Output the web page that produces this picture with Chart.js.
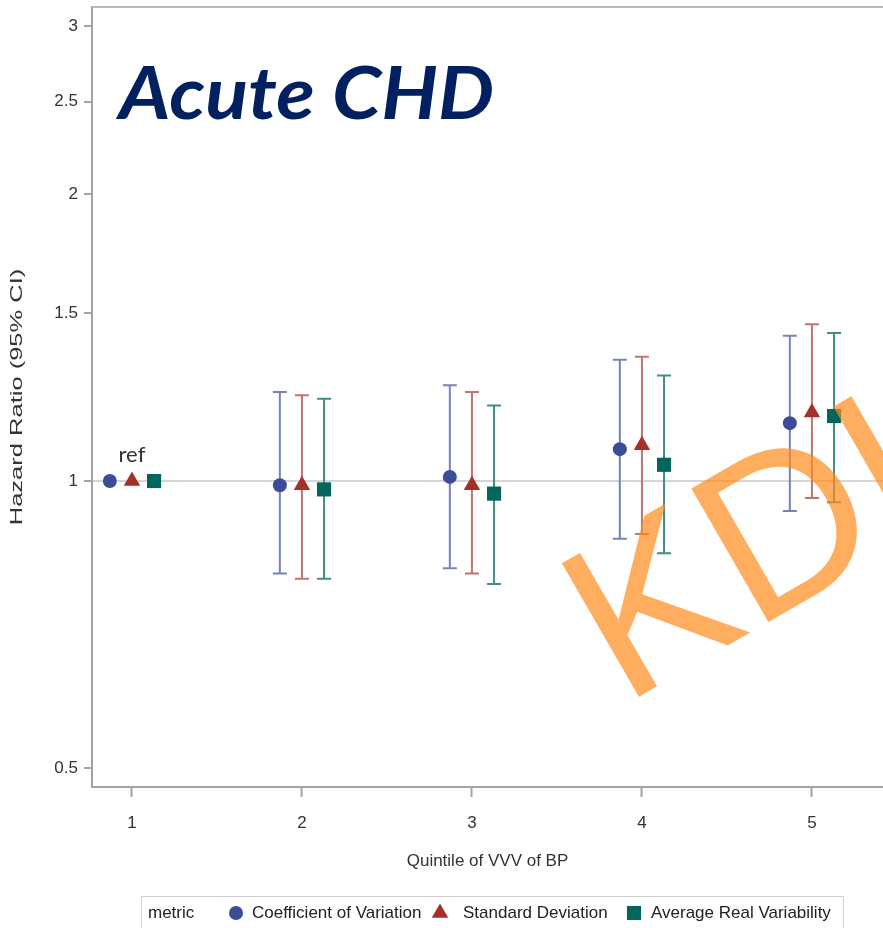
<!DOCTYPE html>
<html>
<head>
<meta charset="utf-8">
<title>Acute CHD</title>
<script src="https://cdn.jsdelivr.net/npm/chart.js@4.4.1/dist/chart.umd.min.js"></script>
<style>
  html, body { margin: 0; padding: 0; background: #fff; }
  #wrap { width: 883px; height: 928px; }
</style>
</head>
<body>
<div id="wrap"><canvas id="hrChart" width="883" height="928"></canvas></div>
<script>
var quintiles = [1, 2, 3, 4, 5];
var hrTicks = [0.5, 1, 1.5, 2, 2.5, 3];
var metricNames = ['Coefficient of Variation', 'Standard Deviation', 'Average Real Variability'];

// hazard ratio and 95% CI by quintile, quintile 1 = reference (no CI)
var cvHr   = [1, 0.99, 1.01, 1.08, 1.15];
var cvLow  = [null, 0.80, 0.81, 0.87, 0.93];
var cvUpp  = [null, 1.24, 1.26, 1.34, 1.42];
var sdHr   = [1, 0.99, 0.99, 1.09, 1.18];
var sdLow  = [null, 0.79, 0.80, 0.88, 0.96];
var sdUpp  = [null, 1.23, 1.24, 1.35, 1.46];
var arvHr  = [1, 0.98, 0.97, 1.04, 1.17];
var arvLow = [null, 0.79, 0.78, 0.84, 0.95];
var arvUpp = [null, 1.22, 1.20, 1.29, 1.43];

var TXT = '"Liberation Sans", Arial, sans-serif';
var AXIS_GREY = '#a3a3a3';

var metrics = [
    { name: metricNames[0], hr: cvHr,  low: cvLow,  upp: cvUpp,  shape: 'circle',   radius: 7,   fill: '#3b4c9b', bar: '#7882b7', dx: -0.13 },
    { name: metricNames[1], hr: sdHr,  low: sdLow,  upp: sdUpp,  shape: 'triangle', radius: 9.5, fill: '#a3312a', bar: '#c07470', dx: 0 },
    { name: metricNames[2], hr: arvHr, low: arvLow, upp: arvUpp, shape: 'rect',     radius: 10,  fill: '#02665b', bar: '#3f8f86', dx: 0.13 }
];

var datasets = metrics.map(function (m) {
    return {
        label: m.name,
        data: quintiles.map(function (q, i) { return { x: q + m.dx, y: m.hr[i] }; }),
        pointStyle: m.shape,
        pointRadius: m.radius,
        pointHoverRadius: m.radius,
        pointBackgroundColor: m.fill,
        pointBorderWidth: 0,
        showLine: false
    };
});

var decorations = {
    id: 'decorations',
    beforeDraw: function (chart) {
        // stretch the y title along its length
        var ys = chart.scales.y;
        if (!ys._stretched) {
            var baseTitle = ys.drawTitle;
            ys.drawTitle = function () {
                var c = this.ctx, cy = (this.top + this.bottom) / 2;
                c.save();
                c.translate(0, cy);
                c.scale(1, 1.5);
                c.translate(0, -cy);
                baseTitle.call(this);
                c.restore();
            };
            ys._stretched = true;
        }
    },
    beforeDatasetsDraw: function (chart) {
        var ctx = chart.ctx, a = chart.chartArea;
        var xs = chart.scales.x, ys = chart.scales.y;
        ctx.save();
        // top frame line
        ctx.strokeStyle = '#b8b8b8';
        ctx.lineWidth = 2;
        ctx.beginPath();
        ctx.moveTo(a.left, a.top);
        ctx.lineTo(a.right, a.top);
        ctx.stroke();

        // confidence intervals
        ctx.lineWidth = 2;
        metrics.forEach(function (m) {
            ctx.strokeStyle = m.bar;
            quintiles.forEach(function (q, i) {
                if (m.low[i] == null) return;
                var x = xs.getPixelForValue(q + m.dx);
                var y1 = ys.getPixelForValue(m.low[i]);
                var y2 = ys.getPixelForValue(m.upp[i]);
                ctx.beginPath();
                ctx.moveTo(x, y1); ctx.lineTo(x, y2);
                ctx.moveTo(x - 7, y1); ctx.lineTo(x + 7, y1);
                ctx.moveTo(x - 7, y2); ctx.lineTo(x + 7, y2);
                ctx.stroke();
            });
        });
        ctx.restore();
    },
    afterDraw: function (chart) {
        var ctx = chart.ctx;
        var xs = chart.scales.x, ys = chart.scales.y;
        ctx.save();

        // heading, widened a little
        ctx.save();
        ctx.translate(119, 119);
        ctx.scale(1.1, 1);
        ctx.fillStyle = '#002060';
        ctx.font = 'italic bold 72px Lato, Roboto, sans-serif';
        ctx.textAlign = 'left';
        ctx.textBaseline = 'alphabetic';
        ctx.fillText('Acute CHD', 0, 0);
        ctx.restore();

        // reference quintile note
        ctx.fillStyle = '#333';
        ctx.font = '22px Lato, sans-serif';
        ctx.textAlign = 'center';
        ctx.fillText('ref', xs.getPixelForValue(quintiles[0]), ys.getPixelForValue(1) - 19);

        // legend
        ctx.strokeStyle = '#cfcfcf';
        ctx.lineWidth = 1;
        ctx.strokeRect(141.5, 896.5, 702, 40);
        ctx.font = '17px ' + TXT;
        ctx.textAlign = 'left';
        ctx.textBaseline = 'middle';
        ctx.fillStyle = '#222';
        ctx.fillText('metric', 148, 913);
        var keyX = [236, 440, 634];
        var textX = [252, 463, 651];
        metrics.forEach(function (m, i) {
            ctx.fillStyle = m.fill;
            Chart.helpers.drawPoint(ctx, { pointStyle: m.shape, radius: m.radius, rotation: 0, borderWidth: 0 }, keyX[i], 913);
            ctx.fillStyle = '#222';
            ctx.fillText(m.name, textX[i], 913);
        });

        // watermark
        ctx.translate(623, 706);
        ctx.rotate(-30 * Math.PI / 180);
        ctx.fillStyle = 'rgba(255, 139, 28, 0.7)';
        ctx.font = '224px ' + TXT;
        ctx.textAlign = 'left';
        ctx.textBaseline = 'alphabetic';
        ctx.fillText('KDI', 0, 0);
        ctx.restore();
    }
};

var chart = new Chart(document.getElementById('hrChart'), {
    type: 'scatter',
    data: { datasets: datasets },
    options: {
        responsive: false,
        animation: false,
        layout: { autoPadding: false, padding: { top: 7, left: 0, right: 0, bottom: 0 } },
        plugins: {
            legend: { display: false },
            tooltip: { enabled: false }
        },
        scales: {
            x: {
                type: 'linear',
                min: 0.765,
                max: 5.418,
                afterBuildTicks: function (s) { s.ticks = quintiles.map(function (v) { return { value: v }; }); },
                afterFit: function (s) { s.height = 141; s.paddingLeft = 0; s.paddingRight = 0; },
                ticks: {
                    color: '#333',
                    font: { family: TXT, size: 17 },
                    padding: 16,
                    maxRotation: 0,
                    callback: function (v) { return String(v); }
                },
                grid: { drawOnChartArea: false, tickLength: 10, tickColor: AXIS_GREY, tickWidth: 2 },
                border: { color: AXIS_GREY, width: 2 },
                title: {
                    display: true,
                    text: 'Quintile of VVV of BP',
                    color: '#333',
                    font: { family: TXT, size: 17 },
                    padding: { top: 0, bottom: 56 }
                }
            },
            y: {
                type: 'logarithmic',
                min: 0.4776,
                max: 3.142,
                afterBuildTicks: function (s) { s.ticks = hrTicks.map(function (v) { return { value: v }; }); },
                afterFit: function (s) { s.width = 92; s.paddingTop = 0; s.paddingBottom = 0; },
                ticks: {
                    color: '#333',
                    font: { family: TXT, size: 17 },
                    padding: 6,
                    callback: function (v) { return String(v); }
                },
                grid: {
                    color: function (c) { return c.tick && c.tick.value === 1 ? '#d6d6d6' : 'rgba(0,0,0,0)'; },
                    lineWidth: 2,
                    tickLength: 8,
                    tickColor: AXIS_GREY,
                    tickWidth: 2
                },
                border: { color: AXIS_GREY, width: 2 },
                title: {
                    display: true,
                    text: 'Hazard Ratio (95% CI)',
                    color: '#333',
                    font: { family: TXT, size: 17 },
                    padding: { top: 7, bottom: 0 }
                }
            }
        }
    },
    plugins: [decorations]
});
</script>
</body>
</html>
